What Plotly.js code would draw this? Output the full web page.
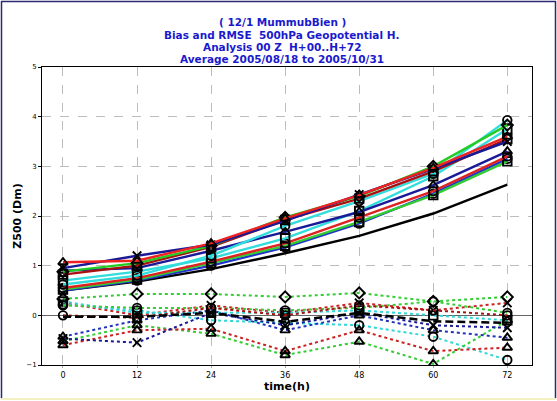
<!DOCTYPE html>
<html>
<head>
<meta charset="utf-8">
<script src="https://cdn.plot.ly/plotly-3.0.1.min.js"></script>
<style>html,body{margin:0;padding:0;background:#fff;}#chart{width:557px;height:401px;}</style>
</head>
<body>
<div id="chart"></div>
<script>
const hours = [0, 12, 24, 36, 48, 60, 72];
const tickLabels = ["0", "12", "24", "36", "48", "60", "72"];

// RMSE series (solid)
const rmseRedTri      = [1.07, 1.10, 1.45, 1.95, 2.42, 2.97, 3.60];
const rmseNavyX       = [0.95, 1.20, 1.42, 1.90, 2.43, 2.95, 3.50];
const rmseGreenDia    = [0.88, 1.05, 1.40, 1.97, 2.40, 3.00, 3.83];
const rmseDarkRedSq   = [0.82, 1.00, 1.38, 1.92, 2.35, 2.90, 3.55];
const rmseCyanCirc    = [0.62, 0.80, 1.20, 1.80, 2.30, 2.85, 3.93];
const rmseBlueTri     = [0.90, 0.95, 1.30, 1.68, 2.08, 2.62, 3.30];
const rmseCyanSq      = [0.70, 0.88, 1.15, 1.55, 2.10, 2.80, 3.75];
const rmseRedCirc     = [0.55, 0.75, 1.08, 1.45, 1.97, 2.50, 3.20];
const rmseGreenSq     = [0.52, 0.72, 1.05, 1.40, 1.88, 2.42, 3.10];
const rmseBlueCirc    = [0.50, 0.70, 1.00, 1.37, 1.85, 2.45, 3.15];
const rmseBlack       = [0.50, 0.68, 0.93, 1.25, 1.60, 2.05, 2.63];

// Bias series (dotted)
const biasGreenDia    = [0.33, 0.43, 0.43, 0.37, 0.45, 0.28, 0.37];
const biasRedX        = [0.25, 0.00, 0.20, 0.05, 0.25, 0.10, 0.25];
const biasCyanCirc    = [0.22, 0.10, -0.10, -0.15, -0.20, -0.43, -0.90];
const biasGreenTri    = [-0.52, -0.20, -0.37, -0.80, -0.53, -0.98, -0.10];
const biasRedTri      = [-0.60, -0.30, -0.27, -0.72, -0.30, -0.72, -0.65];
const biasBlueTri     = [-0.43, -0.10, 0.10, -0.30, 0.00, -0.30, -0.45];
const biasNavyX       = [-0.47, -0.55, 0.05, -0.20, 0.05, -0.20, -0.25];
const biasCyanSq      = [0.28, 0.05, 0.05, 0.05, 0.10, 0.00, -0.10];
const biasGreenCirc   = [0.20, 0.15, 0.15, 0.10, 0.15, 0.28, 0.05];
const biasRedCirc     = [0.00, -0.05, 0.15, 0.00, 0.20, 0.10, 0.00];
const biasBlack       = [-0.03, -0.03, 0.05, -0.13, 0.05, -0.12, -0.15];

function series(y, color, symbol, dotted) {
  const tr = {
    x: hours, y: y, type: 'scatter', mode: symbol ? 'lines+markers' : 'lines',
    line: {color: color, width: dotted ? 2 : 2.4, dash: dotted ? '3px,3px' : 'solid'},
    showlegend: false, hoverinfo: 'skip'
  };
  if (symbol) {
    tr.marker = {symbol: symbol, size: 8.5, color: '#000', line: {color: '#000', width: 1.9}};
  }
  return tr;
}

const data = [
  series(biasGreenDia, '#33cc33', 'diamond-open', true),
  series(biasRedX, '#cc2222', 'x-thin-open', true),
  series(biasCyanCirc, '#33d6d6', 'circle-open', true),
  series(biasGreenTri, '#33cc33', 'triangle-up-open', true),
  series(biasRedTri, '#cc2222', 'triangle-up-open', true),
  series(biasBlueTri, '#2233bb', 'triangle-up-open', true),
  series(biasNavyX, '#1a1a99', 'x-thin-open', true),
  series(biasCyanSq, '#33d6d6', 'square-open', true),
  series(biasGreenCirc, '#33cc33', 'circle-open', true),
  series(biasRedCirc, '#aa1111', 'circle-open', true),
  {x: hours, y: biasBlack, type: 'scatter', mode: 'lines', line: {color: '#000', width: 2.5, dash: '8px,4px'}, showlegend: false, hoverinfo: 'skip'},
  series(rmseBlack, '#000000', null, false),
  series(rmseBlueCirc, '#2233cc', 'circle-open', false),
  series(rmseGreenSq, '#33cc33', 'square-open', false),
  series(rmseRedCirc, '#dd2222', 'circle-open', false),
  series(rmseCyanSq, '#33dddd', 'square-open', false),
  series(rmseBlueTri, '#1a1a99', 'triangle-up-open', false),
  series(rmseCyanCirc, '#33dddd', 'circle-open', false),
  series(rmseDarkRedSq, '#aa1111', 'square-open', false),
  series(rmseGreenDia, '#22cc22', 'diamond-open', false),
  series(rmseNavyX, '#1a1a99', 'x-thin-open', false),
  series(rmseRedTri, '#ee2222', 'triangle-up-open', false)
];

const titleLines = ["( 12/1 MummubBien )", "Bias and RMSE  500hPa Geopotential H.", "Analysis 00 Z  H+00..H+72", "Average 2005/08/18 to 2005/10/31"];

const layout = {
  width: 557, height: 401,
  margin: {l: 42, r: 25, t: 67, b: 36},
  paper_bgcolor: '#fff', plot_bgcolor: '#fff',
  font: {family: 'Liberation Sans, Arial, sans-serif', color: '#000'},
  xaxis: {
    range: [-3.4, 76], tickvals: hours, ticktext: tickLabels,
    showgrid: true, gridcolor: '#bdbdbd', griddash: 'dash', gridwidth: 1,
    zeroline: false, showline: true, linecolor: '#000', linewidth: 1, mirror: true,
    ticks: 'outside', ticklen: 2, tickcolor: '#aaa',
    tickfont: {size: 8, family: 'DejaVu Sans, sans-serif'},
    title: {text: '<b>time(h)</b>', font: {size: 11, family: 'DejaVu Sans, sans-serif'}, standoff: 2}
  },
  yaxis: {
    range: [-1, 5], tickvals: [-1, 0, 1, 2, 3, 4, 5],
    showgrid: true, gridcolor: '#bdbdbd', griddash: 'dash', gridwidth: 1,
    zeroline: true, zerolinecolor: '#666', zerolinewidth: 1.5,
    showline: true, linecolor: '#000', linewidth: 1, mirror: true,
    ticks: 'outside', ticklen: 3, tickcolor: '#000',
    tickfont: {size: 7, family: 'DejaVu Sans, sans-serif'},
    title: {text: '<b>Z500 (Dm)</b>', font: {size: 11, family: 'DejaVu Sans, sans-serif'}, standoff: 2}
  },
  annotations: titleLines.map((t, i) => ({
    text: '<b>' + t + '</b>', xref: 'paper', yref: 'paper',
    x: (282 - 42) / 490, y: (365 - (22.5 + i * 12.2)) / 298,
    xanchor: 'center', yanchor: 'middle', showarrow: false, borderpad: 0,
    font: {size: 10.5, color: '#1a1acc', family: 'DejaVu Sans, sans-serif'}
  })),
  shapes: [
    {type: 'line', xref: 'paper', yref: 'paper', x0: (1 - 42) / 490, x1: (556 - 42) / 490, y0: (365 - 1.5) / 298, y1: (365 - 1.5) / 298, line: {color: '#2a2a70', width: 1.5}},
    {type: 'line', xref: 'paper', yref: 'paper', x0: (1.5 - 42) / 490, x1: (1.5 - 42) / 490, y0: (365 - 1) / 298, y1: (365 - 398) / 298, line: {color: '#2a2a70', width: 1.5}},
    {type: 'line', xref: 'paper', yref: 'paper', x0: (555.5 - 42) / 490, x1: (555.5 - 42) / 490, y0: (365 - 1) / 298, y1: (365 - 398) / 298, line: {color: '#2a2a70', width: 1.5}},
    {type: 'line', xref: 'paper', yref: 'paper', x0: (1 - 42) / 490, x1: (556 - 42) / 490, y0: (365 - 399) / 298, y1: (365 - 399) / 298, line: {color: '#f3f0c0', width: 2}}
  ]
};

Plotly.newPlot('chart', data, layout, {displayModeBar: false, staticPlot: true});
</script>
</body>
</html>
